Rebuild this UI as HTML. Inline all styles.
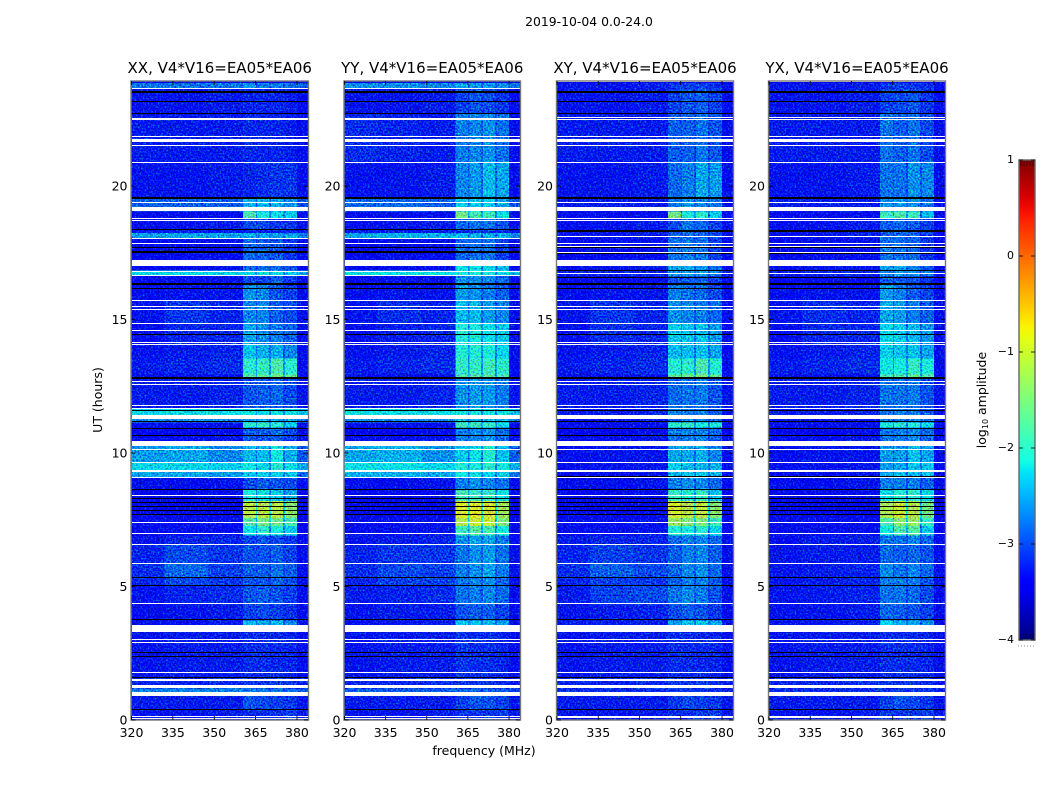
<!DOCTYPE html>
<html lang="en">
<head>
<meta charset="utf-8">
<title>2019-10-04 0.0-24.0</title>
<style>
html,body{margin:0;padding:0;background:#fff;}
svg{display:block;}
text{font-family:"DejaVu Sans","Liberation Sans",sans-serif;fill:#000;}
</style>
</head>
<body>
<svg id="figure" xmlns="http://www.w3.org/2000/svg" width="1050" height="800" viewBox="0 0 1050 800">
<defs>
<filter id="speckle" x="0" y="0" width="100%" height="100%" color-interpolation-filters="sRGB">
<feTurbulence type="fractalNoise" baseFrequency="0.6" numOctaves="1" seed="7" result="raw"/>
<feColorMatrix in="raw" type="matrix" values="0 0 0 0 0.5  1.5 0 0 0 -0.31  0 1.6 0 0 -0.3  0 0 0 0 1" result="noise"/>
<feComposite in="SourceGraphic" in2="noise" operator="arithmetic" k1="0" k2="1" k3="1" k4="-0.5"/>
</filter>
<linearGradient id="jet-gradient" x1="0" y1="1" x2="0" y2="0"></linearGradient>
</defs>
<text x="589" y="26" font-size="12.4" text-anchor="middle">2019-10-04 0.0-24.0</text>
<text x="484" y="755" font-size="12.5" text-anchor="middle">frequency (MHz)</text>
<text x="102" y="400" font-size="12.5" text-anchor="middle" transform="rotate(-90 102 400)">UT (hours)</text>
<g id="panels"></g>
<g id="colorbar"></g>
</svg>
<script>
// ---- axis tick labels
const freqTicks = [320, 335, 350, 365, 380];
const hourTicks = [0, 5, 10, 15, 20];
const colorbarTicks = [-4, -3, -2, -1, 0, 1];

// ---- heatmap bin edges (MHz and UT hours)
const freqEdges = [320, 332, 348, 360.4, 365.1, 365.5, 369.8, 370.5, 374.9, 375.6, 380, 384];
const timeEdges = [0, 0.4, 0.91, 1.2, 1.6, 3.56, 3.75, 4.35, 5.05, 5.33, 5.88, 6.58, 6.93, 7.28, 7.58, 8.23, 8.63, 9.08, 9.38, 9.66, 10.28, 10.67, 10.97, 11.17, 11.43, 11.68, 12.82, 12.97, 13.57, 14.07, 14.86, 15.76, 16.36, 16.66, 16.86, 17.26, 18.06, 18.26, 18.36, 18.81, 19.07, 19.55, 20.95, 22.75, 23.65, 23.88, 23.94];

// ---- log10 amplitude, one row per time bin. Columns: low, mid, high background, block 1-4, upper edge
const ampXX = [
[-3.25,-3.25,-3.2,-3.1,-3.1,-3.1,-3,-3.2],[-3.2,-3.2,-3.2,-2.9,-2.95,-3,-3.05,-3.25],[-2.7,-2.65,-2.65,-2.7,-2.7,-2.7,-2.75,-2.9],[-3.15,-3.15,-3.1,-3.05,-3.05,-3.05,-3.05,-3.2],
[-3.25,-3.2,-3.2,-3.1,-3.1,-3.12,-3.15,-3.3],[-3.3,-3.3,-3.2,-2.4,-2.5,-2.4,-2.6,-3.3],[-3.3,-3.25,-3.2,-3,-2.95,-3,-3.1,-3.3],[-3.25,-3.15,-3.1,-2.9,-2.85,-2.9,-3,-3.3],
[-3.15,-2.95,-3.05,-2.9,-2.9,-2.85,-2.95,-3.3],[-3.1,-2.8,-3,-2.85,-2.85,-2.75,-2.85,-3.3],[-3.15,-2.95,-3.05,-2.9,-2.9,-2.85,-3,-3.3],[-3.25,-3.15,-3.15,-3,-2.9,-2.95,-3.05,-3.3],
[-3.3,-3.3,-3.3,-2.2,-2,-2.1,-2.3,-3.35],[-3.3,-3.3,-3.3,-1.75,-1.55,-1.6,-1.85,-3.35],[-3.35,-3.35,-3.35,-1.15,-1.15,-1.15,-1.45,-3.4],[-3.35,-3.35,-3.3,-2.1,-2.2,-2.3,-2.5,-3.4],
[-3.3,-3.3,-3.25,-2.95,-2.85,-2.9,-2.95,-3.3],[-2.5,-2.5,-2.55,-2.3,-2.3,-2.3,-2.3,-2.8],[-2.25,-2.25,-2.3,-2.15,-2.25,-2.05,-2.2,-2.5],[-2.55,-2.5,-2.65,-2.4,-2.4,-2.15,-2.45,-2.9],
[-3.3,-3.3,-3.25,-2.85,-2.9,-2.85,-3,-3.3],[-3.4,-3.4,-3.3,-2.85,-2.85,-2.75,-2.95,-3.4],[-3.3,-3.3,-3.3,-2,-1.95,-2,-2.3,-3.3],[-2.6,-2.6,-2.6,-2.5,-2.5,-2.5,-2.5,-2.7],
[-2.25,-2.2,-2.2,-2.2,-2.2,-2.2,-2.2,-2.4],[-3.2,-3.2,-3.15,-2.9,-2.85,-2.8,-2.95,-3.25],[-3.3,-3.3,-3.3,-1.75,-1.65,-1.55,-1.65,-3.3],[-3.2,-3.15,-3.1,-2,-1.95,-1.8,-2,-3.3],
[-3.25,-3.2,-3.15,-2.35,-2.45,-2.45,-2.65,-3.3],[-3.3,-3.15,-3.15,-2.5,-2.6,-2.7,-2.85,-3.3],[-3.25,-3.05,-3.15,-2.65,-2.65,-2.85,-2.95,-3.3],[-3.3,-3.25,-3.25,-2.6,-2.65,-2.9,-3,-3.3],
[-3.3,-3.3,-3.3,-2.95,-3,-2.85,-3.05,-3.3],[-2.25,-2.25,-2.25,-2.25,-2.2,-2.2,-2.3,-2.5],[-3.35,-3.3,-3.3,-2.8,-2.8,-2.8,-2.95,-3.35],[-3.35,-3.3,-3.3,-2.8,-2.85,-2.9,-3.05,-3.35],
[-2.55,-2.5,-2.5,-2.45,-2.5,-2.5,-2.5,-2.7],[-3.2,-3.2,-3.2,-3.2,-3.2,-3.2,-3.2,-3.2],[-3.3,-3.25,-3.2,-2.95,-2.95,-3.05,-3.05,-3.3],[-3.3,-3.3,-3.3,-1.8,-2.1,-2.2,-2.3,-3.3],
[-2.85,-2.85,-2.85,-2.45,-2.4,-2.45,-2.6,-2.9],[-3.25,-3.25,-3.2,-3.15,-3.1,-3.05,-3.05,-3.3],[-3.2,-3.2,-3.2,-3.12,-3.15,-3.15,-3.2,-3.3],[-3.25,-3.25,-3.2,-3.15,-3.15,-3.15,-3.2,-3.3],
[-2.75,-2.75,-2.75,-2.6,-2.7,-2.7,-2.75,-2.85],[-3.4,-3.4,-3.4,-3.4,-3.4,-3.4,-3.4,-3.4]
];
const ampYY = [
[-3.25,-3.25,-3.2,-3.05,-3.05,-3.05,-3,-3.25],[-3.2,-3.2,-3.2,-3,-2.9,-2.9,-3,-3.25],[-2.85,-2.85,-2.85,-2.8,-2.8,-2.8,-2.85,-3],[-3.15,-3.15,-3.1,-3.05,-3.05,-3.05,-3.1,-3.2],
[-3.25,-3.2,-3.2,-3.05,-3.1,-3.1,-3.15,-3.3],[-3.3,-3.25,-3.2,-2.35,-2.35,-2.35,-2.5,-3.3],[-3.25,-3.2,-3.2,-2.9,-2.85,-2.85,-3,-3.3],[-3.2,-3.15,-3.1,-2.75,-2.7,-2.65,-2.8,-3.3],
[-3.15,-3,-3,-2.75,-2.65,-2.6,-2.8,-3.3],[-3.1,-2.95,-3,-2.7,-2.6,-2.5,-2.7,-3.3],[-3.15,-3.05,-3.05,-2.75,-2.6,-2.55,-2.75,-3.3],[-3.25,-3.2,-3.15,-2.6,-2.5,-2.5,-2.7,-3.3],
[-3.3,-3.3,-3.25,-1.9,-1.75,-1.85,-2.15,-3.35],[-3.3,-3.3,-3.3,-1.2,-1.05,-1.05,-1.5,-3.35],[-3.35,-3.35,-3.35,-0.95,-0.95,-1,-1.3,-3.4],[-3.35,-3.35,-3.3,-1.85,-1.9,-1.95,-2.2,-3.4],
[-3.3,-3.3,-3.25,-2.7,-2.6,-2.65,-2.75,-3.3],[-2.45,-2.45,-2.5,-2.15,-2.2,-2.25,-2.3,-2.75],[-2.2,-2.2,-2.25,-2.05,-2.1,-2,-2.15,-2.45],[-2.5,-2.45,-2.6,-2.3,-2.2,-2.05,-2.35,-2.85],
[-3.3,-3.3,-3.25,-2.7,-2.65,-2.6,-2.8,-3.3],[-3.4,-3.4,-3.3,-2.7,-2.65,-2.6,-2.8,-3.4],[-3.3,-3.3,-3.3,-1.9,-1.9,-1.95,-2.2,-3.3],[-2.6,-2.6,-2.6,-2.4,-2.4,-2.4,-2.45,-2.7],
[-2.2,-2.2,-2.2,-2.15,-2.15,-2.15,-2.15,-2.35],[-3.2,-3.2,-3.15,-2.6,-2.55,-2.55,-2.7,-3.25],[-3.3,-3.3,-3.3,-1.8,-1.75,-1.7,-1.8,-3.3],[-3.2,-3.15,-3.1,-1.95,-1.95,-1.9,-2,-3.3],
[-3.25,-3.2,-3.15,-2.05,-2.05,-2.1,-2.25,-3.3],[-3.3,-3.2,-3.15,-2.05,-2.1,-2.2,-2.3,-3.3],[-3.25,-3.1,-3.15,-2.4,-2.4,-2.55,-2.65,-3.3],[-3.3,-3.25,-3.25,-2.55,-2.6,-2.7,-2.85,-3.3],
[-3.3,-3.3,-3.3,-2.6,-2.6,-2.65,-2.8,-3.3],[-2.2,-2.2,-2.2,-2.1,-2.1,-2.1,-2.2,-2.45],[-3.35,-3.3,-3.3,-2.2,-2.2,-2.25,-2.4,-3.35],[-3.35,-3.3,-3.3,-2.8,-2.75,-2.75,-3,-3.35],
[-2.5,-2.45,-2.45,-2.4,-2.45,-2.45,-2.45,-2.65],[-3.2,-3.2,-3.2,-3.2,-3.2,-3.2,-3.2,-3.2],[-3.3,-3.25,-3.2,-2.8,-2.75,-2.75,-2.9,-3.3],[-3.3,-3.3,-3.3,-1.55,-1.85,-1.9,-2.2,-3.3],
[-2.8,-2.8,-2.85,-2.3,-2.3,-2.3,-2.5,-2.9],[-3.25,-3.25,-3.2,-2.65,-2.55,-2.4,-2.5,-3.3],[-3.1,-3.15,-3.2,-2.7,-2.65,-2.6,-2.75,-3.3],[-3.25,-3.25,-3.2,-3,-2.9,-2.95,-3.05,-3.3],
[-2.6,-2.6,-2.65,-2.5,-2.55,-2.55,-2.6,-2.75],[-3.4,-3.4,-3.4,-3.4,-3.4,-3.4,-3.4,-3.4]
];
const ampXY = [
[-3.25,-3.25,-3.2,-3.1,-3.1,-3.05,-3,-3.25],[-3.2,-3.2,-3.2,-3.05,-2.95,-3,-3.05,-3.25],[-3.1,-3.1,-3.1,-3.05,-3.05,-3.05,-3.05,-3.2],[-3.15,-3.15,-3.1,-3.05,-3.05,-3.05,-3.1,-3.2],
[-3.25,-3.2,-3.2,-3.1,-3.12,-3.12,-3.15,-3.3],[-3.2,-3.2,-3.2,-2.55,-2.35,-2.35,-2.45,-3.3],[-3.25,-3.2,-3.15,-2.95,-2.85,-2.9,-3.05,-3.3],[-3.2,-3,-2.95,-2.75,-2.65,-2.7,-2.9,-3.3],
[-3.15,-3,-3.05,-2.85,-2.7,-2.7,-2.9,-3.3],[-3.1,-2.85,-2.95,-2.8,-2.65,-2.6,-2.8,-3.3],[-3.15,-3,-3.05,-2.85,-2.7,-2.65,-2.85,-3.3],[-3.2,-3.15,-3.15,-2.8,-2.7,-2.65,-2.8,-3.3],
[-3.3,-3.3,-3.25,-2.05,-2.1,-2,-2.25,-3.35],[-3.3,-3.3,-3.3,-1.35,-1.5,-1.5,-1.9,-3.35],[-3.35,-3.35,-3.35,-1,-1.15,-1.1,-1.45,-3.4],[-3.35,-3.35,-3.3,-1.95,-2.05,-1.95,-2.35,-3.4],
[-3.3,-3.3,-3.25,-2.7,-2.6,-2.65,-2.8,-3.3],[-3.3,-3.3,-3.25,-2.4,-2.35,-2.35,-2.4,-3.3],[-3.3,-3.25,-3.25,-2.3,-2.4,-2.4,-2.45,-3.3],[-3.3,-3.25,-3.25,-2.5,-2.5,-2.45,-2.65,-3.3],
[-3.3,-3.3,-3.25,-2.75,-2.7,-2.65,-2.85,-3.3],[-3.4,-3.4,-3.3,-2.7,-2.65,-2.65,-2.8,-3.4],[-3.3,-3.3,-3.3,-2,-1.95,-2.1,-2.1,-3.3],[-3.25,-3.25,-3.2,-2.8,-2.7,-2.7,-2.85,-3.3],
[-3.2,-3.2,-3.15,-2.7,-2.7,-2.7,-2.85,-3.3],[-3.2,-3.2,-3.15,-2.8,-2.75,-2.7,-2.9,-3.25],[-3.3,-3.3,-3.3,-1.65,-1.6,-1.5,-1.65,-3.3],[-3.2,-3.15,-3.1,-2.05,-2,-1.8,-2.05,-3.3],
[-3.25,-3.2,-3.15,-2.4,-2.4,-2.35,-2.5,-3.3],[-3.3,-3.1,-3.15,-2.3,-2.35,-2.35,-2.55,-3.3],[-3.25,-3.05,-3.15,-2.6,-2.65,-2.7,-2.8,-3.3],[-3.3,-3.25,-3.25,-2.7,-2.75,-2.8,-2.95,-3.3],
[-3.35,-3.35,-3.35,-2.9,-2.85,-2.85,-3.05,-3.35],[-3.2,-3.15,-3.15,-2.6,-2.55,-2.55,-2.7,-3.25],[-3.3,-3.25,-3.25,-2.5,-2.45,-2.6,-2.8,-3.35],[-3.35,-3.3,-3.3,-2.75,-2.7,-2.75,-3,-3.35],
[-3.3,-3.25,-3.2,-2.9,-2.8,-2.8,-2.95,-3.3],[-3.25,-3.25,-3.2,-2.9,-2.8,-2.8,-2.95,-3.3],[-3.3,-3.25,-3.2,-2.95,-2.75,-2.8,-3,-3.3],[-3.3,-3.3,-3.3,-1.55,-2.1,-2,-2.3,-3.3],
[-3.2,-3.2,-3.2,-2.75,-2.55,-2.65,-2.75,-3.3],[-3.25,-3.25,-3.2,-2.8,-2.7,-2.5,-2.55,-3.3],[-3.2,-3.2,-3.2,-2.85,-2.85,-2.75,-2.9,-3.3],[-3.25,-3.25,-3.2,-3,-2.9,-2.85,-3,-3.3],
[-3.25,-3.25,-3.2,-3.05,-3,-3,-3.1,-3.3],[-3.4,-3.4,-3.4,-3.4,-3.4,-3.4,-3.4,-3.4]
];
const ampYX = [
[-3.25,-3.25,-3.2,-3.05,-3.05,-3.05,-3,-3.25],[-3.2,-3.2,-3.2,-3,-2.9,-2.95,-3.05,-3.25],[-3.1,-3.1,-3.1,-3.05,-3.05,-3.05,-3.05,-3.2],[-3.15,-3.15,-3.1,-3.05,-3.05,-3.05,-3.1,-3.2],
[-3.25,-3.2,-3.2,-3.1,-3.1,-3.12,-3.15,-3.3],[-3.25,-3.25,-3.2,-2.25,-2.45,-2.45,-2.6,-3.3],[-3.25,-3.25,-3.2,-2.8,-2.85,-2.9,-3,-3.3],[-3.25,-3.2,-3.15,-2.75,-2.75,-2.8,-2.95,-3.3],
[-3.25,-3.2,-3.15,-2.7,-2.7,-2.7,-2.9,-3.3],[-3.25,-3.2,-3.15,-2.65,-2.75,-2.65,-2.8,-3.3],[-3.25,-3.2,-3.2,-2.8,-2.85,-2.8,-2.9,-3.3],[-3.3,-3.2,-3.2,-2.75,-2.75,-2.65,-2.8,-3.3],
[-3.3,-3.3,-3.3,-2.15,-1.8,-1.75,-2.35,-3.35],[-3.3,-3.3,-3.3,-1.8,-1.45,-1.35,-1.95,-3.35],[-3.35,-3.35,-3.35,-1.25,-1.05,-1.2,-1.6,-3.4],[-3.35,-3.35,-3.3,-2.2,-2.05,-2,-2.25,-3.4],
[-3.3,-3.3,-3.25,-2.7,-2.7,-2.7,-2.85,-3.3],[-3.3,-3.3,-3.25,-2.5,-2.35,-2.4,-2.35,-3.3],[-3.3,-3.25,-3.25,-2.55,-2.5,-2.35,-2.35,-3.3],[-3.3,-3.25,-3.25,-2.55,-2.55,-2.35,-2.5,-3.3],
[-3.3,-3.3,-3.25,-2.75,-2.7,-2.65,-2.8,-3.3],[-3.4,-3.4,-3.3,-2.75,-2.7,-2.65,-2.8,-3.4],[-3.3,-3.3,-3.3,-2.1,-2,-2.05,-2.2,-3.3],[-3.25,-3.25,-3.2,-2.75,-2.7,-2.65,-2.8,-3.3],
[-3.2,-3.2,-3.15,-2.75,-2.7,-2.7,-2.85,-3.3],[-3.2,-3.2,-3.15,-2.75,-2.75,-2.7,-2.9,-3.25],[-3.3,-3.3,-3.3,-1.8,-1.75,-1.6,-1.7,-3.3],[-3.2,-3.15,-3.1,-2.15,-2.1,-1.95,-2.1,-3.3],
[-3.25,-3.2,-3.15,-2.3,-2.35,-2.35,-2.5,-3.3],[-3.3,-3.15,-3.15,-2.25,-2.3,-2.4,-2.55,-3.3],[-3.25,-3.1,-3.15,-2.5,-2.55,-2.7,-2.85,-3.3],[-3.3,-3.25,-3.25,-2.55,-2.7,-2.85,-3,-3.3],
[-3.35,-3.35,-3.35,-2.9,-2.85,-2.9,-3.1,-3.35],[-3.2,-3.15,-3.15,-2.65,-2.55,-2.55,-2.75,-3.25],[-3.3,-3.25,-3.25,-2.55,-2.5,-2.65,-2.9,-3.35],[-3.35,-3.3,-3.3,-2.75,-2.75,-2.8,-3.05,-3.35],
[-3.3,-3.25,-3.2,-2.85,-2.8,-2.85,-3,-3.3],[-3.25,-3.25,-3.2,-2.9,-2.8,-2.85,-3,-3.3],[-3.3,-3.25,-3.2,-2.85,-2.8,-2.85,-3,-3.3],[-3.3,-3.3,-3.3,-1.9,-1.8,-1.9,-2.4,-3.3],
[-3.2,-3.2,-3.2,-2.6,-2.55,-2.6,-2.75,-3.3],[-3.25,-3.25,-3.2,-2.75,-2.75,-2.6,-2.65,-3.3],[-3.2,-3.2,-3.2,-2.75,-2.85,-2.75,-2.95,-3.3],[-3.25,-3.25,-3.2,-3,-2.95,-2.9,-3.05,-3.3],
[-3.25,-3.25,-3.2,-3.05,-3,-3.05,-3.1,-3.3],[-3.4,-3.4,-3.4,-3.4,-3.4,-3.4,-3.4,-3.4]
];

// ---- flagged integrations in UT hours: white = blanked, black = zero amplitude
const whiteScansAll = [21.85, 21.51, 20.89, 19.38, 18.79, 18.71, 15.70, 15.48, 15.38, 14.86, 14.61, 14.16, 14.05, 12.68, 12.58, 11.79, 11.68, 10.12, 9.66, 9.08, 8.42, 7.41, 6.99, 6.58, 5.88, 4.35, 3.02, 2.91, 1.79, 0.12];
const whiteRangesAll = [[21.66,21.78],[19.07,19.22],[17.01,17.24],[11.26,11.43],[10.28,10.46],[9.31,9.37],[3.31,3.56],[1.46,1.53],[1.20,1.32],[0.91,1.05]];
const whiteScansCo = [23.65, 18.05, 17.84, 16.82, 16.64, 0.06];
const whiteRangesCo = [[22.48,22.54]];
const whiteScansCross = [23.91, 22.57, 22.50, 18.10, 17.86, 17.74, 17.53, 16.74, 0.10];
const blackScansAll = [23.19, 16.15, 14.43, 11.61, 11.17, 10.93, 10.67, 8.62, 8.31, 8.14, 7.99, 7.84, 7.71, 5.33, 5.05, 3.75, 2.53, 2.39, 1.59, 0.40];
const blackRangesAll = [[23.49,23.56],[22.71,22.75],[19.53,19.59],[16.30,16.37],[12.77,12.85]];
const blackScansCo = [18.36, 17.71];
const blackRangesCo = [[17.49,17.56]];
const blackScansCross = [17.69, 17.46, 16.84, 16.57, 9.14];
const blackRangesCross = [[18.28,18.34]];

// ---- panel titles and products
const panelTitles = ["XX, V4*V16=EA05*EA06", "YY, V4*V16=EA05*EA06", "XY, V4*V16=EA05*EA06", "YX, V4*V16=EA05*EA06"];
const panelAmps = [ampXX, ampYY, ampXY, ampYX];
const panelIsCross = [false, false, true, true];

// ---- layout (not data)
const SVGNS = "http://www.w3.org/2000/svg";
const panelBoxes = [{l:131.5,r:308},{l:344.5,r:520},{l:557,r:733},{l:769,r:945}];
const plotTop = 81, plotBottom = 720;
const freqMax = 384, freqMin = 320, hourMax = 23.94;
const cbarBox = {l:1019, r:1035, t:160, b:640};
const cbarMin = -4, cbarMax = 1;

function make(tag, attrs, parent) {
  const el = document.createElementNS(SVGNS, tag);
  for (const k in attrs) el.setAttribute(k, attrs[k]);
  parent.appendChild(el);
  return el;
}
function yScale(h) { return plotBottom - (h / hourMax) * (plotBottom - plotTop); }
function xScale(box, f) { return box.l + (f - freqMin) / (freqMax - freqMin) * (box.r - box.l); }
function cbarScale(v) { return cbarBox.b - (v - cbarMin) / (cbarMax - cbarMin) * (cbarBox.b - cbarBox.t); }
function jet(t) {
  t = Math.max(0, Math.min(1, t));
  const seg = (x0, x1) => Math.max(0, Math.min(1, (t - x0) / (x1 - x0)));
  const r = seg(0.35, 0.66) - (t > 0.89 ? (t - 0.89) / 0.11 * 0.5 : 0);
  const g = seg(0.125, 0.375) - seg(0.64, 0.91);
  const b = Math.min(1, 0.5 + t / 0.11 * 0.5) - seg(0.34, 0.65);
  return "rgb(" + Math.round(r * 255) + "," + Math.round(g * 255) + "," + Math.round(Math.max(0, b) * 255) + ")";
}
function ampColor(v) { return jet((v - cbarMin) / (cbarMax - cbarMin)); }
function gapValue(a, b) { return -3.1 + 0.5 * (Math.min(a, b) + 3.1); }
function rowColumns(row) {
  return [row[0], row[1], row[2], row[3], gapValue(row[3], row[4]), row[4], gapValue(row[4], row[5]), row[5], gapValue(row[5], row[6]), row[6], row[7]];
}

const panelsRoot = document.getElementById("panels");
panelTitles.forEach(function (title, p) {
  const box = panelBoxes[p];
  const g = make("g", {}, panelsRoot);
  
  

  const heat = make("g", {filter: "url(#speckle)", "shape-rendering": "crispEdges"}, g);
  
  
  panelAmps[p].forEach(function (row, i) {
    rowColumns(row).forEach(function (v, c) {
      const x0 = xScale(box, freqEdges[c]), x1 = xScale(box, freqEdges[c + 1]);
      const y0 = Math.max(plotTop, yScale(timeEdges[i + 1])), y1 = yScale(timeEdges[i]);
      const cell = make("rect", {x: x0, y: y0, width: x1 - x0 + 0.5, height: y1 - y0 + 0.5, fill: ampColor(v)}, heat);
      
      
    });
  });

  const cross = panelIsCross[p];
  const whiteScans = whiteScansAll.concat(cross ? whiteScansCross : whiteScansCo);
  const whiteRanges = whiteRangesAll.concat(cross ? [] : whiteRangesCo);
  const blackScans = blackScansAll.concat(cross ? blackScansCross : blackScansCo);
  const blackRanges = blackRangesAll.concat(cross ? blackRangesCross : blackRangesCo);
  const flags = make("g", {"shape-rendering": "crispEdges"}, g);
  
  
  function drawScan(h, colour, name) {
    const flag = make("rect", {x: Math.round(box.l), y: Math.floor(yScale(h)), width: Math.round(box.r - box.l), height: 1, fill: colour}, flags);
    
    
  }
  function drawRange(start, end, colour, name) {
    const y0 = Math.round(yScale(end)), y1 = Math.round(yScale(start));
    const flag = make("rect", {x: Math.round(box.l), y: y0, width: Math.round(box.r - box.l), height: Math.max(1, y1 - y0), fill: colour}, flags);
    
    
  }
  blackScans.forEach(function (h) { drawScan(h, "#000", "zero-scan"); });
  blackRanges.forEach(function (r) { drawRange(r[0], r[1], "#000", "zero-scan-range"); });
  whiteScans.forEach(function (h) { drawScan(h, "#fff", "blanked-scan"); });
  whiteRanges.forEach(function (r) { drawRange(r[0], r[1], "#fff", "blanked-scan-range"); });

  const frame = make("rect", {x: box.l - 0.5, y: plotTop, width: box.r - box.l + 1, height: plotBottom - plotTop, fill: "none", stroke: "#777", "stroke-width": 1.4}, g);
  
  

  const titleEl = make("text", {x: (box.l + box.r) / 2, y: 73, "font-size": 15, "text-anchor": "middle"}, g);
  titleEl.textContent = title;
  
  

  freqTicks.forEach(function (f) {
    const x = xScale(box, f);
    const t1 = make("line", {x1: x, x2: x, y1: plotBottom, y2: plotBottom - 4, stroke: "#000", "stroke-width": 0.8}, g);
    
    
    const t2 = make("line", {x1: x, x2: x, y1: plotTop, y2: plotTop + 4, stroke: "#000", "stroke-width": 0.8}, g);
    
    
    const lab = make("text", {x: x, y: 737, "font-size": 12.5, "text-anchor": "middle"}, g);
    lab.textContent = f;
    
    
  });
  hourTicks.forEach(function (h) {
    const y = yScale(h);
    const t1 = make("line", {x1: box.l, x2: box.l + 4, y1: y, y2: y, stroke: "#000", "stroke-width": 0.8}, g);
    
    
    const t2 = make("line", {x1: box.r, x2: box.r - 4, y1: y, y2: y, stroke: "#000", "stroke-width": 0.8}, g);
    
    
    const lab = make("text", {x: box.l - 4, y: y + 4.5, "font-size": 12.5, "text-anchor": "end"}, g);
    lab.textContent = h;
    
    
  });
});

// ---- colorbar
const grad = document.getElementById("jet-gradient");
for (let i = 0; i <= 40; i++) {
  make("stop", {offset: (i / 40 * 100) + "%", "stop-color": jet(i / 40)}, grad);
}
const cbar = document.getElementById("colorbar");
const cbarRamp = make("rect", {x: cbarBox.l, y: cbarBox.t, width: cbarBox.r - cbarBox.l, height: cbarBox.b - cbarBox.t, fill: "url(#jet-gradient)"}, cbar);


for (let x = cbarBox.l + 2; x < cbarBox.r; x += 3) {
  const hatchTop = make("line", {x1: x, x2: x, y1: cbarBox.t, y2: cbarBox.t + 6, stroke: "#300", "stroke-width": 0.7}, cbar);
  
  
  const hatchBottom = make("line", {x1: x, x2: x, y1: cbarBox.b, y2: cbarBox.b - 6, stroke: "#003", "stroke-width": 0.7}, cbar);
  
  
}
const cbarFrame = make("rect", {x: cbarBox.l, y: cbarBox.t, width: cbarBox.r - cbarBox.l, height: cbarBox.b - cbarBox.t, fill: "none", stroke: "#666", "stroke-width": 1.4}, cbar);


colorbarTicks.forEach(function (v) {
  const y = cbarScale(v);
  const tickL = make("line", {x1: cbarBox.l, x2: cbarBox.l + 4, y1: y, y2: y, stroke: "#000", "stroke-width": 0.8}, cbar);
  
  
  const tickR = make("line", {x1: cbarBox.r, x2: cbarBox.r - 4, y1: y, y2: y, stroke: "#000", "stroke-width": 0.8}, cbar);
  
  
  const lab = make("text", {x: cbarBox.l - 5, y: y + 3, "font-size": 11, "text-anchor": "end"}, cbar);
  lab.textContent = v < 0 ? "\u2212" + Math.abs(v) : String(v);
  
  
});
const dots = make("line", {x1: cbarBox.l - 1, x2: cbarBox.r, y1: 646, y2: 646, stroke: "#888", "stroke-width": 1, "stroke-dasharray": "1 2"}, cbar);


const cbarLabel = make("text", {x: 986, y: 400, "font-size": 12.5, "text-anchor": "middle", transform: "rotate(-90 986 400)"}, cbar);


cbarLabel.appendChild(document.createTextNode("log"));
const sub = make("tspan", {"font-size": 8, dy: 2}, cbarLabel);
sub.textContent = "10";
const rest = make("tspan", {dy: -2}, cbarLabel);
rest.textContent = " amplitude";
</script>
</body>
</html>
